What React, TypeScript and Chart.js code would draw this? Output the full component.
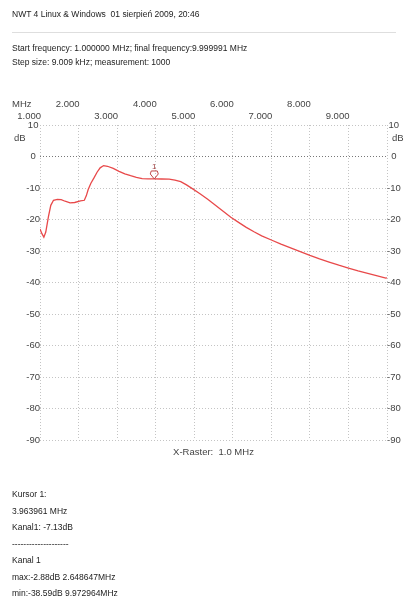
import React, { useEffect, useRef } from "react";
import { Chart, registerables } from "chart.js";

Chart.register(...registerables);

const freqMHz = [
  1.0, 1.05, 1.1, 1.15, 1.22, 1.28, 1.35, 1.45, 1.55, 1.65, 1.78, 1.9, 2.05, 2.15, 2.2, 2.25, 2.32, 2.4, 2.48,
  2.56, 2.65, 2.75, 2.9, 3.05, 3.2, 3.35, 3.5, 3.65, 3.8, 3.96, 4.15, 4.35, 4.5, 4.65, 4.8, 4.95, 5.15, 5.35,
  5.55, 5.75, 5.95, 6.15, 6.35, 6.55, 6.75, 7.0, 7.25, 7.5, 7.75, 8.0, 8.25, 8.5, 8.75, 9.0, 9.25, 9.5, 9.75,
  9.97, 10.0,
];
const levelDb = [
  -23.0, -24.5, -25.6, -24.0, -19.0, -15.5, -13.9, -13.6, -13.7, -14.2, -14.7, -14.6, -14.1, -13.9, -12.5,
  -10.5, -8.5, -6.8, -5.0, -3.6, -2.88, -3.1, -3.8, -4.7, -5.5, -6.1, -6.6, -7.0, -7.1, -7.13, -7.15, -7.2,
  -7.5, -8.0, -9.0, -10.2, -11.8, -13.6, -15.5, -17.4, -19.3, -20.9, -22.5, -23.9, -25.2, -26.5, -27.8, -29.0,
  -30.2, -31.4, -32.5, -33.5, -34.5, -35.4, -36.3, -37.1, -37.9, -38.59, -38.55,
];
const xTickValues = [1, 2, 3, 4, 5, 6, 7, 8, 9];
const cursorFreq = [3.963961];
const cursorDb = [-7.13];

const headerLines = [
  "NWT 4 Linux & Windows  01 sierpień 2009, 20:46",
];
const infoLines = [
  "Start frequency: 1.000000 MHz; final frequency:9.999991 MHz",
  "Step size: 9.009 kHz; measurement: 1000",
];
const footerLines = [
  "Kursor 1:",
  "3.963961 MHz",
  "Kanal1: -7.13dB",
  "--------------------",
  "Kanal 1",
  "max:-2.88dB 2.648647MHz",
  "min:-38.59dB 9.972964MHz",
];

const TEXT_FONT = "'Liberation Sans', Arial, sans-serif";
const CHART_FONT = "'Liberation Sans', Arial, sans-serif";

const overlayPlugin = {
  id: "nwtOverlay",
  afterDraw(chart: any) {
    const ctx = chart.ctx;
    const xs = chart.scales.x;
    const ys = chart.scales.y;
    const area = chart.chartArea;
    ctx.save();
    ctx.fillStyle = "#444";
    ctx.font = `9.5px ${CHART_FONT}`;
    ctx.textBaseline = "middle";
    ctx.textAlign = "left";
    ctx.fillText("MHz", 12, 104);
    ctx.textAlign = "right";
    xTickValues.forEach((v) => {
      const px = xs.getPixelForValue(v);
      const y = v % 2 === 0 ? 104 : 116;
      ctx.fillText(v.toFixed(3), px + 1, y);
    });
    ctx.textAlign = "left";
    ctx.fillText("dB", 14, 138);
    ctx.fillText("dB", 392, 138);
    ctx.textAlign = "center";
    ctx.fillText("X-Raster:  1.0 MHz", (area.left + area.right) / 2, 452);

    // cursor marker
    cursorFreq.forEach((f, i) => {
      const px = xs.getPixelForValue(f);
      const py = ys.getPixelForValue(cursorDb[i]);
      ctx.strokeStyle = "#c04848";
      ctx.lineWidth = 1;
      ctx.beginPath();
      ctx.moveTo(px, py);
      ctx.lineTo(px - 4, py - 5);
      ctx.lineTo(px - 3, py - 8);
      ctx.lineTo(px + 3, py - 8);
      ctx.lineTo(px + 4, py - 5);
      ctx.closePath();
      ctx.stroke();
      ctx.fillStyle = "#a04040";
      ctx.font = `8px ${CHART_FONT}`;
      ctx.textAlign = "center";
      ctx.fillText(String(i + 1), px, py - 12);
    });
    ctx.restore();
  },
};

export default function App() {
  const canvasRef = useRef<HTMLCanvasElement | null>(null);

  useEffect(() => {
    if (!canvasRef.current) return;
    const gridColor = (c: any) => (c.tick && c.tick.value === 0 ? "#777" : "#c4c4c4");
    const chart = new Chart(canvasRef.current, {
      type: "line",
      data: {
        datasets: [
          {
            data: freqMHz.map((f, i) => ({ x: f, y: levelDb[i] })),
            borderColor: "#e8494a",
            borderWidth: 1.3,
            pointRadius: 0,
            tension: 0,
            fill: false,
          },
        ],
      },
      options: {
        animation: false,
        responsive: false,
        maintainAspectRatio: false,
        events: [],
        layout: { padding: { top: 125, bottom: 158, left: 0, right: 0 } },
        plugins: { legend: { display: false }, tooltip: { enabled: false } },
        scales: {
          x: {
            type: "linear",
            min: 1,
            max: 10,
            position: "bottom",
            ticks: { display: false, stepSize: 1 },
            grid: { color: "#c4c4c4", borderDash: [1, 2], drawTicks: false, lineWidth: 1 } as any,
            border: { display: false, dash: [1, 2] },
            afterFit: (s: any) => {
              s.height = 0;
            },
          },
          y: {
            type: "linear",
            position: "left",
            min: -90,
            max: 10,
            ticks: {
              stepSize: 10,
              color: "#444",
              font: { family: CHART_FONT, size: 9.5 },
              crossAlign: "center",
              padding: 0,
            },
            grid: { color: gridColor, drawTicks: false, lineWidth: 1 },
            border: { display: false, dash: [1, 2] },
            afterFit: (s: any) => {
              s.width = 40;
            },
          },
          y2: {
            type: "linear",
            position: "right",
            min: -90,
            max: 10,
            ticks: {
              stepSize: 10,
              color: "#444",
              font: { family: CHART_FONT, size: 9.5 },
              crossAlign: "center",
              padding: 0,
            },
            grid: { display: false, drawTicks: false },
            border: { display: false },
            afterFit: (s: any) => {
              s.width = 17;
            },
          },
        },
      },
      plugins: [overlayPlugin],
    } as any);
    // dashed grid lines
    (chart.options.scales as any).x.border.dash = [1, 2];
    (chart.options.scales as any).y.border.dash = [1, 2];
    (chart.options.scales as any).x.grid.borderDash = [1, 2];
    chart.update();
    return () => chart.destroy();
  }, []);

  const textStyle: React.CSSProperties = {
    position: "absolute",
    left: 12,
    fontFamily: TEXT_FONT,
    fontSize: "8.5px",
    lineHeight: "12px",
    color: "#222",
    whiteSpace: "pre",
    margin: 0,
  };

  return (
    <div>
      <canvas
        ref={canvasRef}
        width={404}
        height={598}
        style={{ position: "absolute", left: 0, top: 0, width: 404, height: 598 }}
      />
      <div style={{ ...textStyle, top: 8 }}>{headerLines[0]}</div>
      <div style={{ position: "absolute", left: 12, top: 32, width: 384, height: 1, background: "#dedede" }} />
      {infoLines.map((t, i) => (
        <div key={t} style={{ ...textStyle, top: 42 + i * 14 }}>
          {t}
        </div>
      ))}
      {footerLines.map((t, i) => (
        <div key={i} style={{ ...textStyle, top: 488 + i * 16.5 }}>
          {t}
        </div>
      ))}
    </div>
  );
}
